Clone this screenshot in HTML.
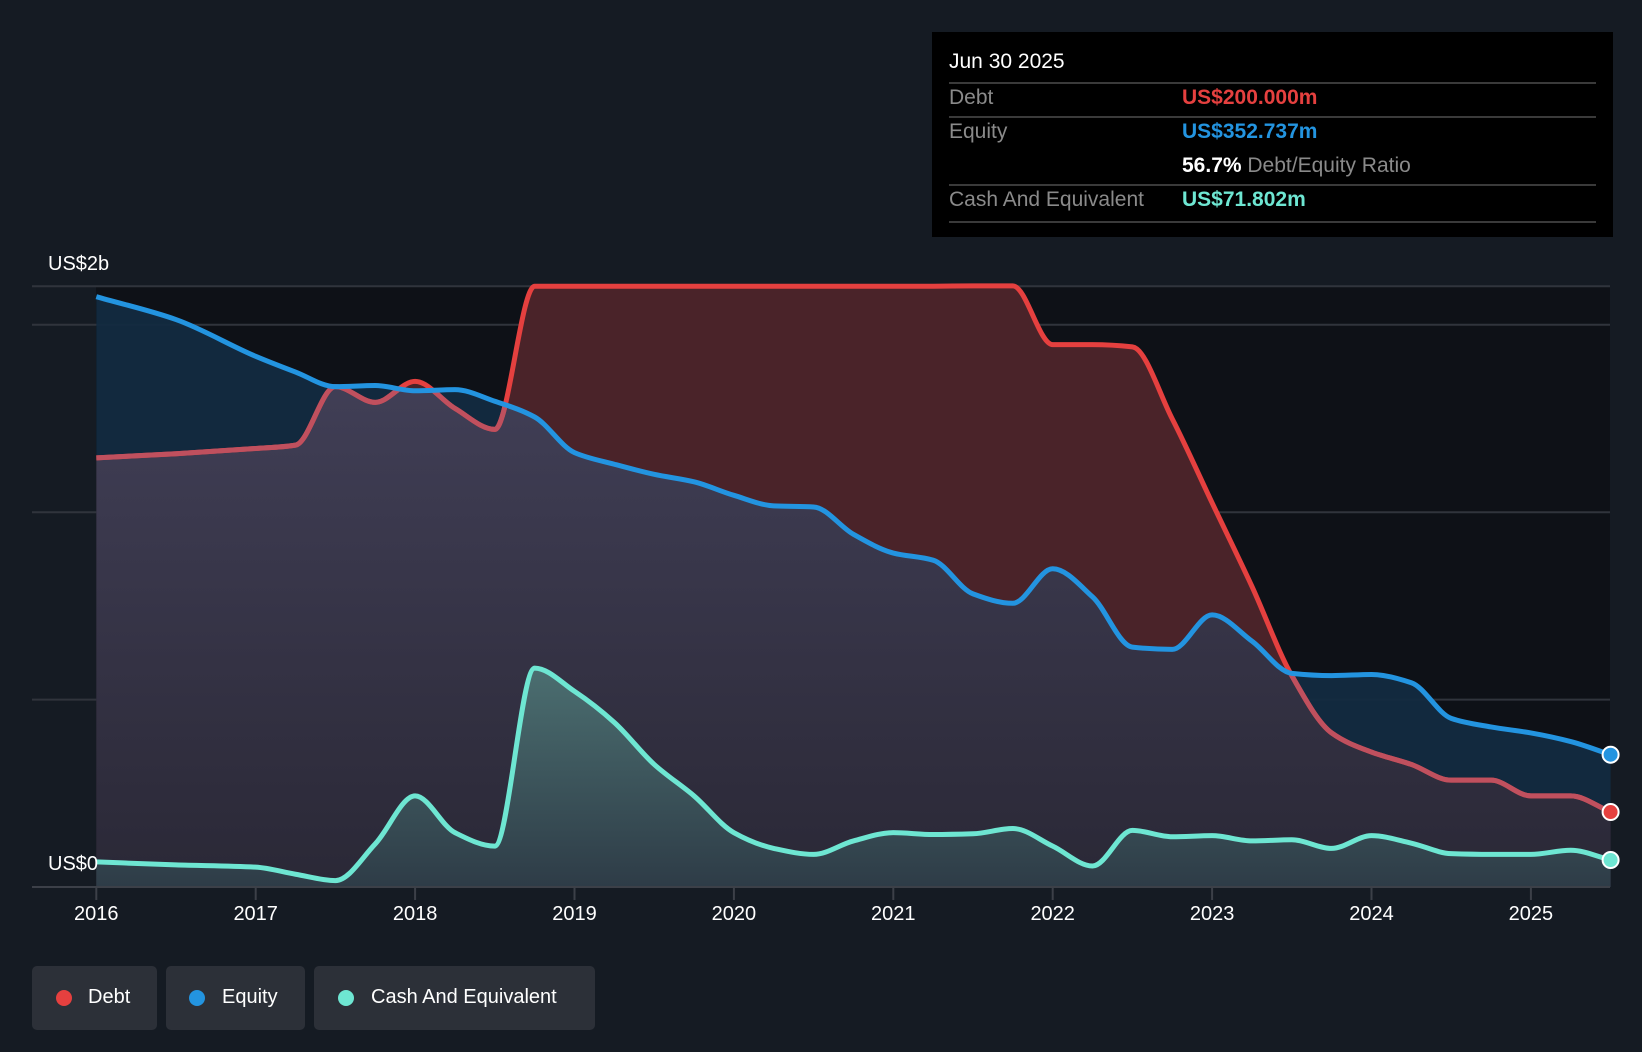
<!DOCTYPE html>
<html><head><meta charset="utf-8"><style>
html,body{margin:0;padding:0;background:#151b23;}
body{width:1642px;height:1052px;position:relative;overflow:hidden;font-family:"Liberation Sans",sans-serif;}
#tip{position:absolute;left:932px;top:32px;width:681px;height:205px;background:#000;}
.row{position:absolute;left:17px;width:647px;font-size:21px;color:#8a8a8a;}
.val{position:absolute;left:233px;}
.hr{position:absolute;left:17px;width:647px;height:2px;background:#3a3a3a;}
.leg{position:absolute;top:966px;height:64px;background:#2c3038;border-radius:5px;color:#fff;font-size:20px;}
.leg .dot{position:absolute;top:24px;width:16px;height:16px;border-radius:50%;}
.leg span.t{position:absolute;top:20px;}
</style></head><body>
<svg id="chart" width="1642" height="1052" style="position:absolute;left:0;top:0">
<defs>
<linearGradient id="gOver" x1="0" y1="0" x2="0" y2="1"><stop offset="0" stop-color="#45435c"/><stop offset="1" stop-color="#2a2836"/></linearGradient>
<linearGradient id="gCash" x1="0" y1="0" x2="0" y2="1"><stop offset="0" stop-color="#4b6e70"/><stop offset="1" stop-color="#2e3c47"/></linearGradient>
<clipPath id="eqClip"><path id="eqClipPath"/></clipPath>
</defs>
<rect x="96" y="286" width="1514" height="601" fill="#0e1117"/>
<g id="grid"></g>
<path id="debtFill" fill="#4a2329"/>
<path id="eqFill" fill="#132b40" fill-opacity="0.95"/>
<path id="overFill" fill="url(#gOver)" clip-path="url(#eqClip)"/>
<path id="cashFill" fill="url(#gCash)"/>
<path id="debtLine" fill="none" stroke="#e5403f" stroke-width="5"/>
<path id="debtLine2" fill="none" stroke="#c0505e" stroke-width="5" clip-path="url(#eqClip)"/>
<path id="eqLine" fill="none" stroke="#2394e0" stroke-width="5"/>
<path id="cashLine" fill="none" stroke="#6ee6d2" stroke-width="5"/>
<g id="axis"></g>
<g id="dots"></g>
<text x="48" y="270" fill="#fff" font-size="20">US$2b</text>
<text x="48" y="870" fill="#fff" font-size="20">US$0</text>
</svg>

<div id="tip">
 <div class="row" style="top:18px;color:#fff;">Jun 30 2025</div>
 <div class="hr" style="top:50px"></div>
 <div class="row" style="top:54px;">Debt<span class="val" style="color:#e5403f;font-weight:bold">US$200.000m</span></div>
 <div class="hr" style="top:84px"></div>
 <div class="row" style="top:88px;">Equity<span class="val" style="color:#2394e0;font-weight:bold">US$352.737m</span></div>
 <div class="row" style="top:122px;"><span class="val"><b style="color:#fff">56.7%</b> Debt/Equity Ratio</span></div>
 <div class="hr" style="top:152px"></div>
 <div class="row" style="top:156px;">Cash And Equivalent<span class="val" style="color:#6ee6d2;font-weight:bold">US$71.802m</span></div>
 <div class="hr" style="top:189px"></div>
</div>

<div class="leg" style="left:32px;width:125px;"><div class="dot" style="left:24px;background:#e5403f"></div><span class="t" style="left:56px">Debt</span></div>
<div class="leg" style="left:166px;width:139px;"><div class="dot" style="left:23px;background:#2394e0"></div><span class="t" style="left:56px">Equity</span></div>
<div class="leg" style="left:314px;width:281px;"><div class="dot" style="left:24px;background:#6ee6d2"></div><span class="t" style="left:57px">Cash And Equivalent</span></div>

<script>
const dates = [2016,2016.5,2017,2017.25,2017.5,2017.75,2018,2018.25,2018.5,2018.75,2019,2019.25,2019.5,2019.75,2020,2020.25,2020.5,2020.75,2021,2021.25,2021.5,2021.75,2022,2022.25,2022.5,2022.75,2023,2023.25,2023.5,2023.75,2024,2024.25,2024.5,2024.75,2025,2025.25,2025.5];
const equity = [1575,1514,1416,1374,1335,1338,1324,1327,1296,1254,1159,1128,1101,1081,1045,1017,1014,941,891,872,782,757,849,774,640,634,726,656,570,564,567,545,450,427,411,388,353];
const debt = [1145,1156,1170,1179,1335,1293,1349,1277,1221,1603,1603,1603,1603,1603,1603,1603,1603,1603,1603,1603,1604,1604,1447,1447,1441,1249,1025,802,564,411,360,327,285,285,243,243,200];
const cash = [67,59,53,34,17,115,243,145,109,584,522,439,327,243,145,103,87,123,145,140,142,156,109,56,151,134,137,123,126,103,137,117,89,87,87,98,72];
const yearTicks = [2016,2017,2018,2019,2020,2021,2022,2023,2024,2025];
const gridVals = [500,1000,1500,1603];

const X = d => 96.3 + (d - 2016) * 159.4;
const Y = v => 887 - v * 0.3748;

function monotone(pts){
  const n=pts.length; if(n<2) return '';
  const dx=[],m=[],t=[];
  for(let i=0;i<n-1;i++){dx[i]=pts[i+1][0]-pts[i][0];m[i]=(pts[i+1][1]-pts[i][1])/dx[i];}
  t[0]=m[0];t[n-1]=m[n-2];
  for(let i=1;i<n-1;i++){ if(m[i-1]*m[i]<=0) t[i]=0; else { t[i]=3*(dx[i-1]+dx[i])/((2*dx[i]+dx[i-1])/m[i-1]+(dx[i]+2*dx[i-1])/m[i]); } }
  let d='M'+pts[0][0]+','+pts[0][1];
  for(let i=0;i<n-1;i++){const h=dx[i]/3;
    d+=' C'+(pts[i][0]+h)+','+(pts[i][1]+t[i]*h)+' '+(pts[i+1][0]-h)+','+(pts[i+1][1]-t[i+1]*h)+' '+pts[i+1][0]+','+pts[i+1][1];}
  return d;
}
function pts(vals){return dates.map((d,i)=>[X(d),Y(vals[i])]);}
function area(vals){const l=monotone(pts(vals));return l+' L'+X(dates[dates.length-1])+','+Y(0)+' L'+X(dates[0])+','+Y(0)+' Z';}

document.getElementById('debtFill').setAttribute('d',area(debt));
document.getElementById('eqFill').setAttribute('d',area(equity));
document.getElementById('eqClipPath').setAttribute('d',area(equity));
document.getElementById('overFill').setAttribute('d',area(debt));
document.getElementById('cashFill').setAttribute('d',area(cash));
document.getElementById('debtLine').setAttribute('d',monotone(pts(debt)));
document.getElementById('debtLine2').setAttribute('d',monotone(pts(debt)));
document.getElementById('eqLine').setAttribute('d',monotone(pts(equity)));
document.getElementById('cashLine').setAttribute('d',monotone(pts(cash)));

const NS='http://www.w3.org/2000/svg';
const grid=document.getElementById('grid');
gridVals.forEach(v=>{
  const l=document.createElementNS(NS,'line');
  
  
  l.setAttribute('x1',32);l.setAttribute('x2',1610);l.setAttribute('y1',Y(v));l.setAttribute('y2',Y(v));
  l.setAttribute('stroke','#30343c');l.setAttribute('stroke-width',2);
  grid.appendChild(l);
});
const axis=document.getElementById('axis');
const al=document.createElementNS(NS,'line');


al.setAttribute('x1',32);al.setAttribute('x2',1610);al.setAttribute('y1',887);al.setAttribute('y2',887);
al.setAttribute('stroke','#3c4048');al.setAttribute('stroke-width',2);
axis.appendChild(al);
yearTicks.forEach(y=>{
  const t=document.createElementNS(NS,'line');
  
  
  t.setAttribute('x1',X(y));t.setAttribute('x2',X(y));t.setAttribute('y1',887);t.setAttribute('y2',900);
  t.setAttribute('stroke','#3c4048');t.setAttribute('stroke-width',2);
  axis.appendChild(t);
  const tx=document.createElementNS(NS,'text');
  
  
  tx.setAttribute('x',X(y));tx.setAttribute('y',920);tx.setAttribute('fill','#fff');
  tx.setAttribute('font-size','20');tx.setAttribute('text-anchor','middle');
  tx.textContent=y;axis.appendChild(tx);
});
const dots=document.getElementById('dots');
[[debt,'#e5403f'],[equity,'#2394e0'],[cash,'#6ee6d2']].forEach(([s,c])=>{
  const ci=document.createElementNS(NS,'circle');
  
  
  ci.setAttribute('cx',X(dates[dates.length-1]));ci.setAttribute('cy',Y(s[s.length-1]));
  ci.setAttribute('r',8);ci.setAttribute('fill',c);ci.setAttribute('stroke','#fff');ci.setAttribute('stroke-width',2);
  dots.appendChild(ci);
});
</script>
</body></html>
